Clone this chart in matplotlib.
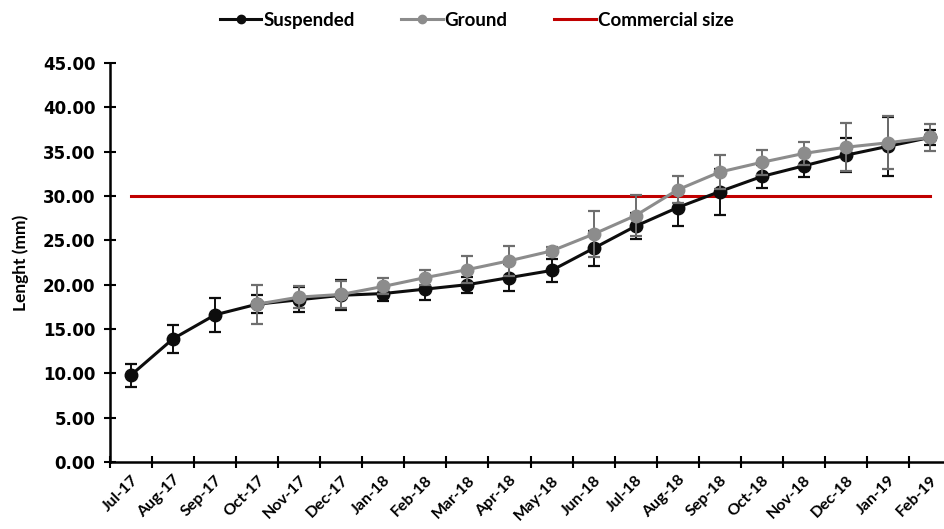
import matplotlib.pyplot as plt
from matplotlib.lines import Line2D
import numpy as np

plt.rcParams['font.family'] = ['Lato', 'DejaVu Sans']
plt.rcParams['font.weight'] = 'bold'

MONTHS = ["Jul-17", "Aug-17", "Sep-17", "Oct-17", "Nov-17", "Dec-17", "Jan-18",
          "Feb-18", "Mar-18", "Apr-18", "May-18", "Jun-18", "Jul-18", "Aug-18",
          "Sep-18", "Oct-18", "Nov-18", "Dec-18", "Jan-19", "Feb-19"]

SUSPENDED = [9.8, 13.9, 16.6, 17.8, 18.3, 18.8, 19.0, 19.5, 20.0, 20.8, 21.6, 24.1,
             26.6, 28.7, 30.5, 32.2, 33.4, 34.6, 35.6, 36.6]
SUSPENDED_ERR = [1.3, 1.6, 1.9, 1.0, 1.4, 1.7, 0.8, 1.2, 0.9, 1.5, 1.3, 2.0,
                 1.5, 2.05, 2.6, 1.3, 1.3, 1.9, 3.3, 0.9]

GROUND_START = 3
GROUND = [17.8, 18.6, 18.9, 19.8, 20.8, 21.7, 22.7, 23.8, 25.7, 27.8, 30.7,
          32.7, 33.8, 34.8, 35.5, 36.0, 36.6]
GROUND_ERR = [2.2, 1.2, 1.5, 0.9, 0.8, 1.5, 1.7, 0.4, 2.6, 2.3, 1.5,
              1.9, 1.4, 1.3, 2.7, 3.0, 1.5]

COMMERCIAL_SIZE = 30.0

BLACK = "#0D0D0D"
GREY = "#8C8C8C"
RED = "#C00000"

fig = plt.figure(figsize=(9.44, 5.29), dpi=100)
ax = fig.add_axes([110 / 944, 1 - 462 / 529, (951 - 110) / 944, (462 - 63) / 529])

x = np.arange(len(MONTHS))
xg = x[GROUND_START:]

ax.plot([x[0], x[-1]], [COMMERCIAL_SIZE, COMMERCIAL_SIZE], color=RED, lw=2.2, zorder=2)
ax.errorbar(x, SUSPENDED, yerr=SUSPENDED_ERR, color=BLACK, ecolor=BLACK, lw=2.2,
            marker="o", ms=9, elinewidth=1.4, capsize=4.5, capthick=1.6, zorder=3)
ax.errorbar(xg, GROUND, yerr=GROUND_ERR, color=GREY, ecolor="#6E6E6E", lw=2.2,
            marker="o", ms=9, elinewidth=1.4, capsize=4.5, capthick=1.6, zorder=4)

ax.set_ylim(0, 45)
ax.set_yticks(np.arange(0, 46, 5))
ax.set_yticklabels([f"{v:.2f}" for v in np.arange(0, 46, 5)], fontsize=12,
                   family="DejaVu Sans", fontweight="bold")
ax.set_xlim(-0.5, len(MONTHS) - 0.5)
ax.set_xticks(np.arange(-0.5, len(MONTHS), 1.0))
ax.set_xticklabels([])
ax.set_xticks(x, minor=True)
ax.set_xticklabels(MONTHS, minor=True, rotation=45, ha="right", rotation_mode="anchor",
                   fontsize=11.5)
ax.tick_params(axis="x", which="minor", length=0, pad=8)
ax.tick_params(axis="both", which="major", direction="inout", length=9, width=1.5)
ax.tick_params(axis="y", pad=6)
ax.set_ylabel("Lenght (mm)", fontsize=12.5, fontweight="bold", labelpad=10)

for side in ("top", "right"):
    ax.spines[side].set_visible(False)
for side in ("left", "bottom"):
    ax.spines[side].set_linewidth(1.8)

handles = [
    Line2D([], [], color=BLACK, lw=2.2, marker="o", ms=6),
    Line2D([], [], color=GREY, lw=2.2, marker="o", ms=6),
    Line2D([], [], color=RED, lw=2.2),
]
fig.legend(handles, ["Suspended", "Ground", "Commercial size"],
           loc="upper center", bbox_to_anchor=(0.505, 1.01), ncol=3, frameon=False,
           fontsize=13.5, handlelength=2.2, columnspacing=2.5, handletextpad=0.1)

fig.savefig("out.png", dpi=100)
